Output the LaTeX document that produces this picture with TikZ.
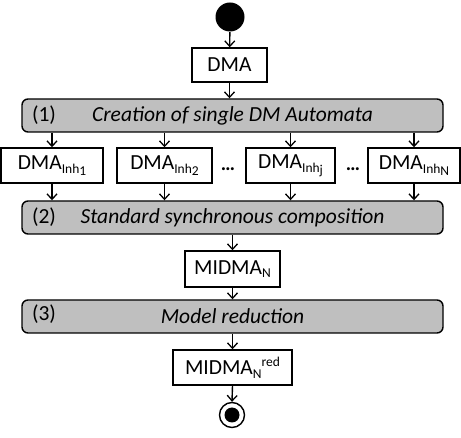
\documentclass[tikz,border=0pt]{standalone}
\usepackage{fontspec}
\setmainfont{Carlito}
\usetikzlibrary{arrows.meta}

\newcommand{\lowtxt}[1]{\raisebox{-0.35ex}{\fontsize{13.5}{14}\selectfont #1}}
\newcommand{\hightxt}[1]{\raisebox{0.85ex}{\fontsize{13.5}{14}\selectfont #1}}

\begin{document}
\begin{tikzpicture}[x=1pt,y=-1pt,>={Straight Barb[length=5.5pt,width=10pt,line width=1.3pt]},->,line width=1.4pt,
	box/.style={rectangle,draw=black,fill=white,line width=1.4pt,inner sep=0pt,minimum height=35pt,font=\fontsize{21.5}{24}\selectfont},
	stage/.style={rectangle,rounded corners=6pt,draw=black,fill=gray!50,line width=1.4pt,inner sep=0pt,minimum width=421pt,minimum height=33pt,font=\fontsize{21.5}{24}\selectfont\itshape},
	stagenum/.style={anchor=west,inner sep=0pt,font=\fontsize{21.5}{24}\selectfont}]

	\useasboundingbox (0,0) rectangle (461,438);

	\node (start) at (230,17) [circle,fill=black,inner sep=0pt,minimum size=29pt] {};
	\node (dma) at (229.5,65) [box,minimum width=75pt,minimum height=34pt] {DMA};

	\node (s1) at (232.5,115.5) [stage] {Creation of single DM Automata};
	\node at ([xshift=10pt]s1.west) [stagenum] {(1)};

	\node (inh1) at (52,165.5) [box,minimum width=102pt] {DMA\lowtxt{Inh\raisebox{-0.3ex}{1}}};
	\node (inh2) at (164.5,165.5) [box,minimum width=95pt] {DMA\lowtxt{Inh\raisebox{-0.3ex}{2}}};
	\node (inhj) at (290.5,165.5) [box,minimum width=89pt] {DMA\lowtxt{Inh\raisebox{-0.3ex}{j}}};
	\node (inhn) at (414,165.5) [box,minimum width=92pt] {DMA\lowtxt{Inh\raisebox{-0.3ex}{N}}};
	\node (dots1) at (228,169) [font=\fontsize{20}{22}\selectfont\bfseries] {\dots};
	\node (dots2) at (353,169) [font=\fontsize{20}{22}\selectfont\bfseries] {\dots};

	\node (s2) at (232.5,217.5) [stage] {Standard synchronous composition};
	\node at ([xshift=10pt]s2.west) [stagenum] {(2)};

	\node (midma) at (232.5,269) [box,minimum width=95pt,minimum height=36pt] {MIDMA\lowtxt{N}};

	\node (s3) at (232.5,316.5) [stage] {Model reduction};
	\node at ([xshift=10pt,yshift=2pt]s3.west) [stagenum] {(3)};

	\node (red) at (232.5,367.5) [box,minimum width=119pt] {MIDMA\lowtxt{N}\hightxt{red}};

	\node (stop) at (232,415) [circle,draw=black,line width=1.4pt,inner sep=0pt,minimum size=25pt] {};
	\node (stopdot) at (232,415) [circle,fill=black,inner sep=0pt,minimum size=15pt] {};

	\draw (start) -- (dma);
	\draw (dma.south) -- (dma.south |- s1.north);
	\draw (s1.south -| inh1.north) -- (inh1.north);
	\draw (s1.south -| inh2.north) -- (inh2.north);
	\draw (s1.south -| inhj.north) -- (inhj.north);
	\draw (s1.south -| inhn.north) -- (inhn.north);
	\draw (inh1.south) -- (inh1.south |- s2.north);
	\draw (inh2.south) -- (inh2.south |- s2.north);
	\draw (inhj.south) -- (inhj.south |- s2.north);
	\draw (inhn.south) -- (inhn.south |- s2.north);
	\draw (s2.south -| midma.north) -- (midma.north);
	\draw (midma.south) -- (midma.south |- s3.north);
	\draw (s3.south -| red.north) -- (red.north);
	\draw (red.south) -- (stop.north);

\end{tikzpicture}
\end{document}
